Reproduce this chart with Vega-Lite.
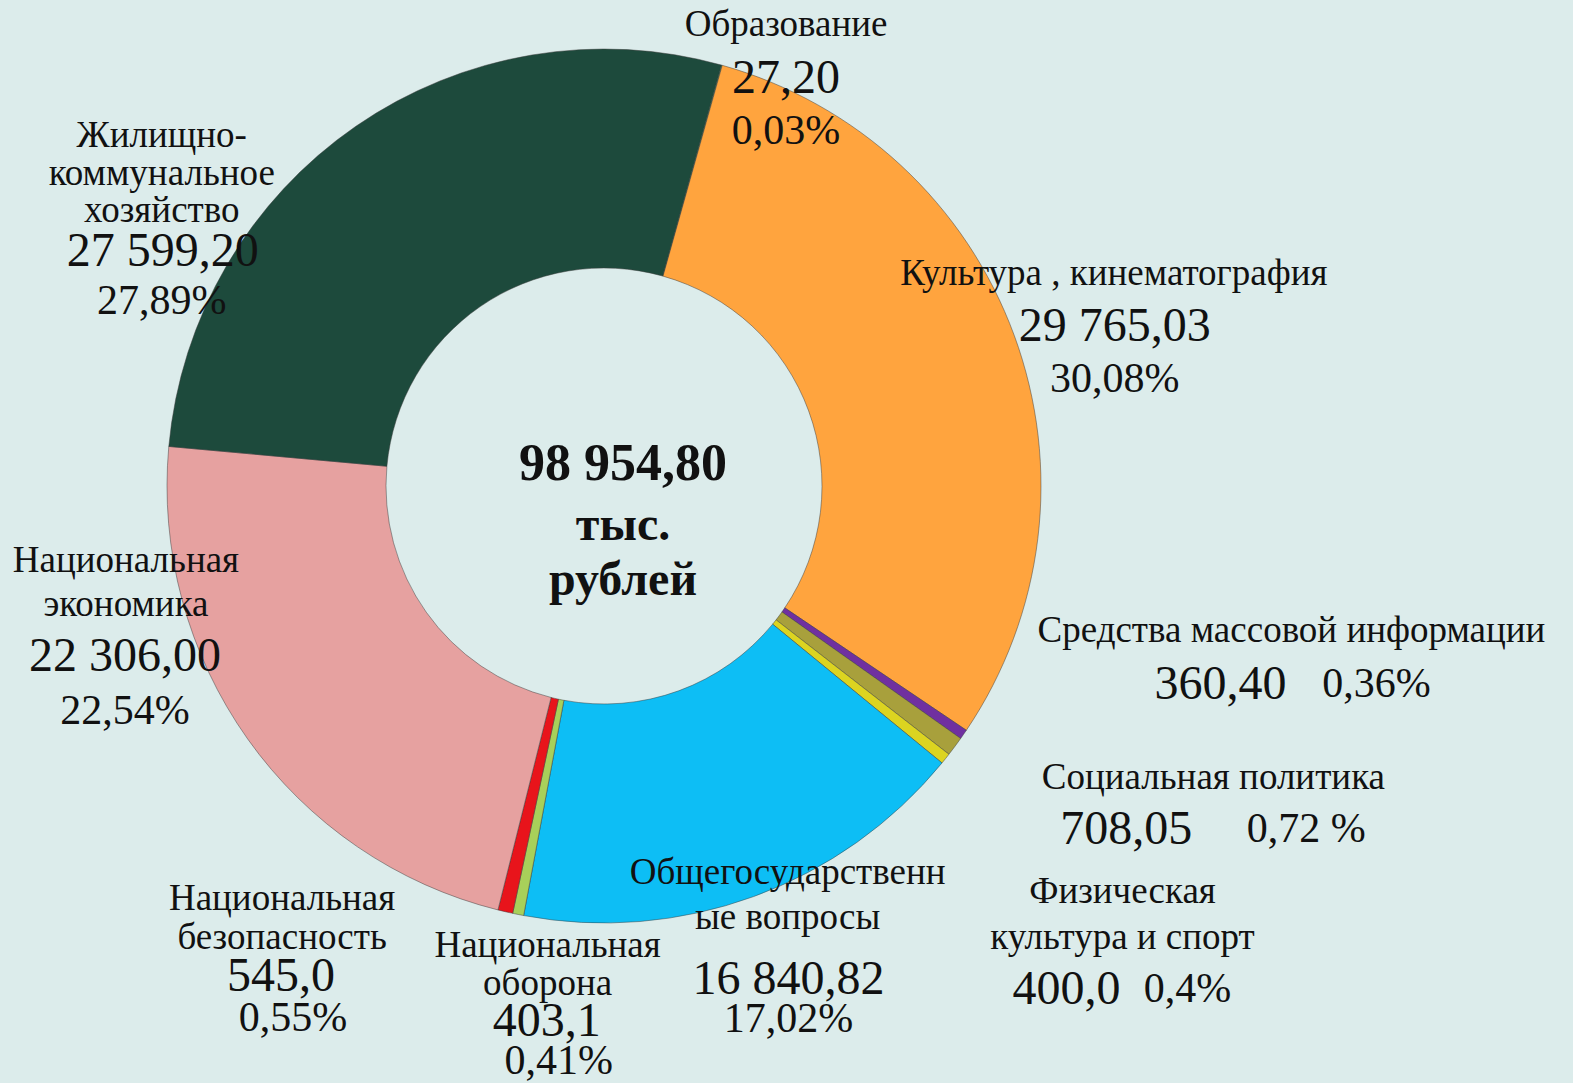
{
  "$schema": "https://vega.github.io/schema/vega-lite/v6.json",
  "width": 1208,
  "height": 972,
  "autosize": "none",
  "padding": {"left": 0, "top": 0, "right": 365, "bottom": 111},
  "background": "#DCECEB",
  "config": {
    "view": {"stroke": null},
    "text": {"font": "Liberation Serif", "align": "center", "baseline": "alphabetic", "fill": "#111111", "lineBreak": "\n"}
  },
  "layer": [
    {
      "data": {
        "values": [
          {"n": 1, "cat": "Образование", "label": "Образование", "value": 27.2, "val": "27,20", "pct": "0,03%"},
          {"n": 2, "cat": "Культура, кинематография", "label": "Культура , кинематография", "value": 29765.03, "val": "29 765,03", "pct": "30,08%"},
          {"n": 3, "cat": "Средства массовой информации", "label": "Средства массовой информации", "value": 360.4, "val": "360,40", "pct": "0,36%"},
          {"n": 4, "cat": "Социальная политика", "label": "Социальная  политика", "value": 708.05, "val": "708,05", "pct": "0,72 %"},
          {"n": 5, "cat": "Физическая культура и спорт", "label": "Физическая\nкультура и спорт", "value": 400.0, "val": "400,0", "pct": "0,4%"},
          {"n": 6, "cat": "Общегосударственные вопросы", "label": "Общегосударственн\nые вопросы", "value": 16840.82, "val": "16 840,82", "pct": "17,02%"},
          {"n": 7, "cat": "Национальная оборона", "label": "Национальная\nоборона", "value": 403.1, "val": "403,1", "pct": "0,41%"},
          {"n": 8, "cat": "Национальная безопасность", "label": "Национальная\nбезопасность", "value": 545.0, "val": "545,0", "pct": "0,55%"},
          {"n": 9, "cat": "Национальная экономика", "label": "Национальная\nэкономика", "value": 22306.0, "val": "22 306,00", "pct": "22,54%"},
          {"n": 10, "cat": "Жилищно-коммунальное хозяйство", "label": "Жилищно-\nкоммунальное\nхозяйство", "value": 27599.2, "val": "27 599,20", "pct": "27,89%"}
        ]
      },
      "encoding": {
        "theta": {"field": "value", "type": "quantitative", "stack": true, "scale": {"range": [0.2723, 6.5555]}},
        "order": {"field": "n", "type": "quantitative"},
        "detail": {"field": "cat", "type": "nominal"}
      },
      "layer": [
        {
          "mark": {"type": "arc", "innerRadius": 218, "outerRadius": 437, "stroke": "#3a3a3a", "strokeWidth": 0.8, "strokeOpacity": 0.6},
          "encoding": {
            "color": {
              "field": "cat", "type": "nominal", "legend": null,
              "scale": {
                "domain": ["Образование", "Культура, кинематография", "Средства массовой информации", "Социальная политика", "Физическая культура и спорт", "Общегосударственные вопросы", "Национальная оборона", "Национальная безопасность", "Национальная экономика", "Жилищно-коммунальное хозяйство"],
                "range": ["#5CC85A", "#FFA43E", "#7030A0", "#A8A03C", "#DCD420", "#0DBEF5", "#A8D05A", "#E8141B", "#E6A1A0", "#1D4A3C"]
              }
            }
          }
        },
        {"mark": {"type": "text", "radius": 460, "dx": 58, "dy": -7, "fontSize": 37, "lineHeight": 40}, "encoding": {"text": {"condition": {"test": "datum.n === 1", "field": "label", "type": "nominal"}, "value": ""}}},
        {"mark": {"type": "text", "radius": 460, "dx": 58, "dy": 50, "fontSize": 48}, "encoding": {"text": {"condition": {"test": "datum.n === 1", "field": "val", "type": "nominal"}, "value": ""}}},
        {"mark": {"type": "text", "radius": 460, "dx": 58, "dy": 101, "fontSize": 42}, "encoding": {"text": {"condition": {"test": "datum.n === 1", "field": "pct", "type": "nominal"}, "value": ""}}},

        {"mark": {"type": "text", "radius": 460, "dx": 78, "dy": -42, "fontSize": 37, "lineHeight": 40}, "encoding": {"text": {"condition": {"test": "datum.n === 2", "field": "label", "type": "nominal"}, "value": ""}}},
        {"mark": {"type": "text", "radius": 460, "dx": 79, "dy": 14, "fontSize": 48}, "encoding": {"text": {"condition": {"test": "datum.n === 2", "field": "val", "type": "nominal"}, "value": ""}}},
        {"mark": {"type": "text", "radius": 460, "dx": 79, "dy": 65, "fontSize": 42}, "encoding": {"text": {"condition": {"test": "datum.n === 2", "field": "pct", "type": "nominal"}, "value": ""}}},

        {"mark": {"type": "text", "radius": 460, "dx": 309, "dy": -105, "fontSize": 37, "lineHeight": 40}, "encoding": {"text": {"condition": {"test": "datum.n === 3", "field": "label", "type": "nominal"}, "value": ""}}},
        {"mark": {"type": "text", "radius": 460, "dx": 238, "dy": -48, "fontSize": 48}, "encoding": {"text": {"condition": {"test": "datum.n === 3", "field": "val", "type": "nominal"}, "value": ""}}},
        {"mark": {"type": "text", "radius": 460, "dx": 394, "dy": -50, "fontSize": 42}, "encoding": {"text": {"condition": {"test": "datum.n === 3", "field": "pct", "type": "nominal"}, "value": ""}}},

        {"mark": {"type": "text", "radius": 460, "dx": 240, "dy": 29, "fontSize": 37, "lineHeight": 40}, "encoding": {"text": {"condition": {"test": "datum.n === 4", "field": "label", "type": "nominal"}, "value": ""}}},
        {"mark": {"type": "text", "radius": 460, "dx": 153, "dy": 84, "fontSize": 48}, "encoding": {"text": {"condition": {"test": "datum.n === 4", "field": "val", "type": "nominal"}, "value": ""}}},
        {"mark": {"type": "text", "radius": 460, "dx": 333, "dy": 82, "fontSize": 42}, "encoding": {"text": {"condition": {"test": "datum.n === 4", "field": "pct", "type": "nominal"}, "value": ""}}},

        {"mark": {"type": "text", "radius": 460, "dx": 159, "dy": 130, "fontSize": 37, "lineHeight": 46}, "encoding": {"text": {"condition": {"test": "datum.n === 5", "field": "label", "type": "nominal"}, "value": ""}}},
        {"mark": {"type": "text", "radius": 460, "dx": 103, "dy": 231, "fontSize": 48}, "encoding": {"text": {"condition": {"test": "datum.n === 5", "field": "val", "type": "nominal"}, "value": ""}}},
        {"mark": {"type": "text", "radius": 460, "dx": 224, "dy": 229, "fontSize": 42}, "encoding": {"text": {"condition": {"test": "datum.n === 5", "field": "pct", "type": "nominal"}, "value": ""}}},

        {"mark": {"type": "text", "radius": 460, "dx": 26, "dy": -34, "fontSize": 37, "lineHeight": 45}, "encoding": {"text": {"condition": {"test": "datum.n === 6", "field": "label", "type": "nominal"}, "value": ""}}},
        {"mark": {"type": "text", "radius": 460, "dx": 27, "dy": 76, "fontSize": 48}, "encoding": {"text": {"condition": {"test": "datum.n === 6", "field": "val", "type": "nominal"}, "value": ""}}},
        {"mark": {"type": "text", "radius": 460, "dx": 27, "dy": 114, "fontSize": 42}, "encoding": {"text": {"condition": {"test": "datum.n === 6", "field": "pct", "type": "nominal"}, "value": ""}}},

        {"mark": {"type": "text", "radius": 460, "dx": 34, "dy": 20, "fontSize": 37, "lineHeight": 38}, "encoding": {"text": {"condition": {"test": "datum.n === 7", "field": "label", "type": "nominal"}, "value": ""}}},
        {"mark": {"type": "text", "radius": 460, "dx": 33, "dy": 99, "fontSize": 48}, "encoding": {"text": {"condition": {"test": "datum.n === 7", "field": "val", "type": "nominal"}, "value": ""}}},
        {"mark": {"type": "text", "radius": 460, "dx": 45, "dy": 137, "fontSize": 42}, "encoding": {"text": {"condition": {"test": "datum.n === 7", "field": "pct", "type": "nominal"}, "value": ""}}},

        {"mark": {"type": "text", "radius": 460, "dx": -218, "dy": -24, "fontSize": 37, "lineHeight": 39}, "encoding": {"text": {"condition": {"test": "datum.n === 8", "field": "label", "type": "nominal"}, "value": ""}}},
        {"mark": {"type": "text", "radius": 460, "dx": -219, "dy": 57, "fontSize": 48}, "encoding": {"text": {"condition": {"test": "datum.n === 8", "field": "val", "type": "nominal"}, "value": ""}}},
        {"mark": {"type": "text", "radius": 460, "dx": -207, "dy": 97, "fontSize": 42}, "encoding": {"text": {"condition": {"test": "datum.n === 8", "field": "pct", "type": "nominal"}, "value": ""}}},

        {"mark": {"type": "text", "radius": 460, "dx": -103, "dy": -180, "fontSize": 37, "lineHeight": 44}, "encoding": {"text": {"condition": {"test": "datum.n === 9", "field": "label", "type": "nominal"}, "value": ""}}},
        {"mark": {"type": "text", "radius": 460, "dx": -104, "dy": -81, "fontSize": 48}, "encoding": {"text": {"condition": {"test": "datum.n === 9", "field": "val", "type": "nominal"}, "value": ""}}},
        {"mark": {"type": "text", "radius": 460, "dx": -104, "dy": -28, "fontSize": 42}, "encoding": {"text": {"condition": {"test": "datum.n === 9", "field": "pct", "type": "nominal"}, "value": ""}}},

        {"mark": {"type": "text", "radius": 460, "dx": -181, "dy": 40, "fontSize": 37, "lineHeight": 37.5}, "encoding": {"text": {"condition": {"test": "datum.n === 10", "field": "label", "type": "nominal"}, "value": ""}}},
        {"mark": {"type": "text", "radius": 460, "dx": -180, "dy": 159, "fontSize": 48}, "encoding": {"text": {"condition": {"test": "datum.n === 10", "field": "val", "type": "nominal"}, "value": ""}}},
        {"mark": {"type": "text", "radius": 460, "dx": -181, "dy": 207, "fontSize": 42}, "encoding": {"text": {"condition": {"test": "datum.n === 10", "field": "pct", "type": "nominal"}, "value": ""}}}
      ]
    },
    {
      "data": {"values": [{"t": "98 954,80"}]},
      "mark": {"type": "text", "fontSize": 52, "fontWeight": "bold", "dx": 19, "dy": -6},
      "encoding": {"text": {"field": "t", "type": "nominal"}}
    },
    {
      "data": {"values": [{"t": "тыс.\nрублей"}]},
      "mark": {"type": "text", "fontSize": 48, "fontWeight": "bold", "lineHeight": 55, "dx": 19, "dy": 54},
      "encoding": {"text": {"field": "t", "type": "nominal"}}
    }
  ]
}
